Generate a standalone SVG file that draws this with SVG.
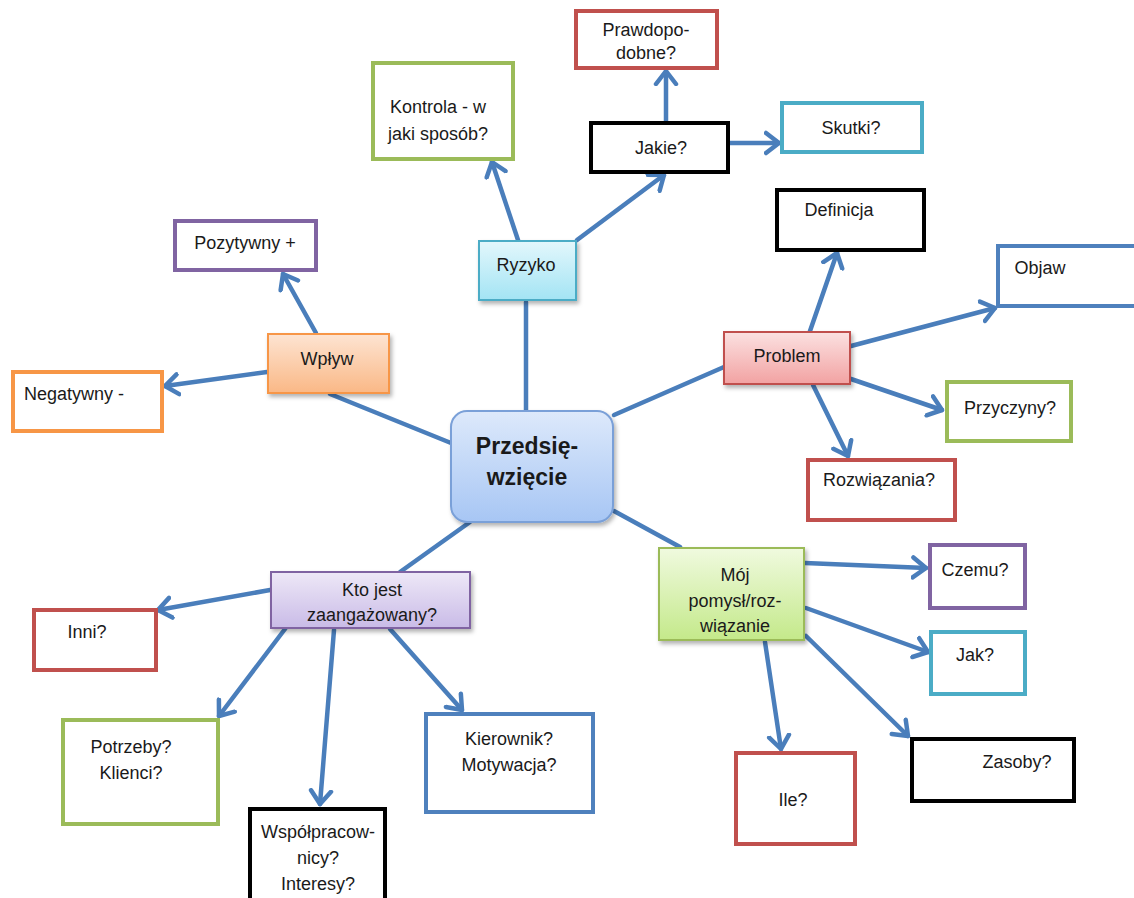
<svg xmlns="http://www.w3.org/2000/svg" width="1134" height="898" viewBox="0 0 1134 898">
<style>
text{font-family:"Liberation Sans",Arial,sans-serif;font-size:18px;fill:#1a1a1a;text-anchor:middle}
.b{fill:#fff;stroke-width:4}
.f{stroke-width:2;filter:url(#sh)}
.red{stroke:#c0504d}.grn{stroke:#9bbb59}.blk{stroke:#000}.cyn{stroke:#4bacc6}.pur{stroke:#8064a2}.org{stroke:#f79646}.blu{stroke:#4f81bd}
.c line{stroke:#4a7ebb;stroke-width:4.5;stroke-linecap:round}
.a{marker-end:url(#ar)}
.big{font-size:23px;font-weight:bold}
</style>
<defs>
<marker id="ar" markerUnits="userSpaceOnUse" markerWidth="30" markerHeight="30" viewBox="-15 -15 30 30" refX="0" refY="0" orient="auto">
<polyline points="-13,-10 0,0 -13,10" fill="none" stroke="#4a7ebb" stroke-width="4.5" stroke-linecap="round" stroke-linejoin="round"/>
</marker>
<filter id="sh" x="-10%" y="-10%" width="130%" height="140%"><feDropShadow dx="2" dy="3" stdDeviation="2" flood-color="#000" flood-opacity="0.3"/></filter>
<linearGradient id="gRy" x1="0" y1="0" x2="0" y2="1"><stop offset="0" stop-color="#e3f7fc"/><stop offset="1" stop-color="#a3e4f4"/></linearGradient>
<linearGradient id="gWp" x1="0" y1="0" x2="0" y2="1"><stop offset="0" stop-color="#fde4d2"/><stop offset="1" stop-color="#fab886"/></linearGradient>
<linearGradient id="gPr" x1="0" y1="0" x2="0" y2="1"><stop offset="0" stop-color="#fbe1e1"/><stop offset="1" stop-color="#f2a2a2"/></linearGradient>
<linearGradient id="gCe" x1="0" y1="0" x2="0" y2="1"><stop offset="0" stop-color="#dde9fb"/><stop offset="1" stop-color="#a7c6f4"/></linearGradient>
<linearGradient id="gKt" x1="0" y1="0" x2="0" y2="1"><stop offset="0" stop-color="#eee8f7"/><stop offset="1" stop-color="#c9bbe7"/></linearGradient>
<linearGradient id="gMo" x1="0" y1="0" x2="0" y2="1"><stop offset="0" stop-color="#f0fadf"/><stop offset="1" stop-color="#c4e98a"/></linearGradient>
</defs>
<rect width="1134" height="898" fill="#fff"/>

<g class="c" id="connectors">
<line x1="526" y1="410" x2="526" y2="302"/>
<line class="a" x1="518" y1="240" x2="492" y2="162"/>
<line class="a" x1="577" y1="240" x2="664" y2="175"/>
<line class="a" x1="666" y1="121" x2="666" y2="71"/>
<line class="a" x1="729" y1="143" x2="779" y2="143"/>
<line x1="451" y1="443" x2="330" y2="394"/>
<line class="a" x1="316" y1="333" x2="283" y2="274"/>
<line class="a" x1="267" y1="372" x2="165" y2="386"/>
<line x1="614" y1="415" x2="724" y2="367"/>
<line class="a" x1="810" y1="331" x2="837" y2="253"/>
<line class="a" x1="851" y1="346" x2="995" y2="308"/>
<line class="a" x1="851" y1="379" x2="942" y2="410"/>
<line class="a" x1="813" y1="385" x2="848" y2="456"/>
<line x1="470" y1="522" x2="400" y2="572"/>
<line class="a" x1="270" y1="590" x2="158" y2="610"/>
<line class="a" x1="285" y1="629" x2="219" y2="716"/>
<line class="a" x1="334" y1="630" x2="320" y2="804"/>
<line class="a" x1="390" y1="629" x2="462" y2="710"/>
<line x1="614" y1="511" x2="680" y2="547"/>
<line class="a" x1="805" y1="563" x2="926" y2="568"/>
<line class="a" x1="806" y1="608" x2="928" y2="652"/>
<line class="a" x1="806" y1="636" x2="908" y2="736"/>
<line class="a" x1="765" y1="642" x2="781" y2="749"/>
</g>

<g id="prawdopodobne"><rect class="b red" x="576" y="11" width="141" height="57"/><text x="646" y="36">Prawdopo-</text><text x="646" y="59">dobne?</text></g>
<g id="kontrola"><rect class="b grn" x="373" y="63" width="140" height="96"/><text x="438" y="113">Kontrola - w</text><text x="438" y="140">jaki sposób?</text></g>
<g id="jakie"><rect class="b blk" x="591" y="123" width="137" height="49"/><text x="661" y="154">Jakie?</text></g>
<g id="skutki"><rect class="b cyn" x="782" y="103" width="140" height="49"/><text x="851" y="134">Skutki?</text></g>
<g id="ryzyko"><rect class="f" x="479" y="241" width="97" height="59" fill="url(#gRy)" stroke="#4bacc6"/><text x="526" y="271">Ryzyko</text></g>
<g id="definicja"><rect class="b blk" x="777" y="190" width="147" height="60"/><text x="839" y="216">Definicja</text></g>
<g id="objaw"><rect class="b blu" x="998" y="246" width="140" height="60"/><text x="1040" y="274">Objaw</text></g>
<g id="problem"><rect class="f" x="724" y="332" width="126" height="52" fill="url(#gPr)" stroke="#c0504d"/><text x="787" y="362">Problem</text></g>
<g id="przyczyny"><rect class="b grn" x="947" y="382" width="124" height="59"/><text x="1010" y="414">Przyczyny?</text></g>
<g id="rozwiazania"><rect class="b red" x="808" y="460" width="147" height="60"/><text x="879" y="486">Rozwiązania?</text></g>
<g id="pozytywny"><rect class="b pur" x="175" y="221" width="141" height="49"/><text x="245" y="249">Pozytywny +</text></g>
<g id="wplyw"><rect class="f" x="268" y="334" width="121" height="59" fill="url(#gWp)" stroke="#f79646"/><text x="327" y="365">Wpływ</text></g>
<g id="negatywny"><rect class="b org" x="13" y="372" width="149" height="59"/><text x="74" y="400">Negatywny -</text></g>
<g id="przedsiewziecie"><rect class="f" x="451" y="411" width="162" height="111" rx="16" fill="url(#gCe)" stroke="#7aa0d8"/><text class="big" x="527" y="454">Przedsię-</text><text class="big" x="527" y="485">wzięcie</text></g>
<g id="kto"><rect class="f" x="271" y="572" width="199" height="56" fill="url(#gKt)" stroke="#8064a2"/><text x="372" y="596">Kto jest</text><text x="372" y="621">zaangażowany?</text></g>
<g id="inni"><rect class="b red" x="34" y="610" width="122" height="60"/><text x="87" y="638">Inni?</text></g>
<g id="potrzeby"><rect class="b grn" x="63" y="720" width="155" height="104"/><text x="131" y="753">Potrzeby?</text><text x="131" y="779">Klienci?</text></g>
<g id="wspolpracownicy"><rect class="b blk" x="250" y="809" width="135" height="95"/><text x="318" y="838">Współpracow-</text><text x="318" y="864">nicy?</text><text x="318" y="890">Interesy?</text></g>
<g id="kierownik"><rect class="b blu" x="426" y="714" width="167" height="98"/><text x="509" y="745">Kierownik?</text><text x="509" y="771">Motywacja?</text></g>
<g id="moj"><rect class="f" x="659" y="548" width="145" height="92" fill="url(#gMo)" stroke="#9bbb59"/><text x="735" y="581">Mój</text><text x="735" y="607">pomysł/roz-</text><text x="735" y="632">wiązanie</text></g>
<g id="czemu"><rect class="b pur" x="930" y="545" width="95" height="63"/><text x="975" y="576">Czemu?</text></g>
<g id="jak"><rect class="b cyn" x="931" y="632" width="94" height="62"/><text x="975" y="661">Jak?</text></g>
<g id="ile"><rect class="b red" x="736" y="753" width="119" height="91"/><text x="793" y="806">Ile?</text></g>
<g id="zasoby"><rect class="b blk" x="912" y="739" width="162" height="62"/><text x="1017" y="768">Zasoby?</text></g>
</svg>
